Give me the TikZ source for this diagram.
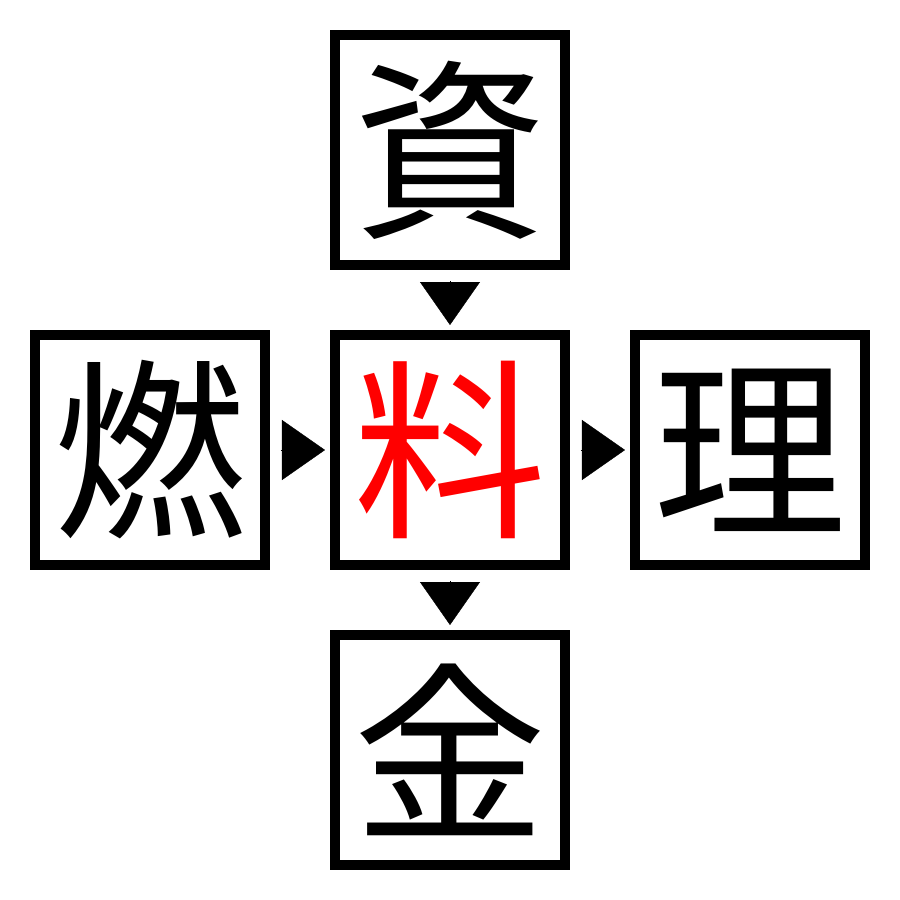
\documentclass[tikz,border=0pt]{standalone}
\usepackage{fontspec}
\newfontfamily\cjk{Noto Sans CJK JP}
\usepackage{tikz}
\usetikzlibrary{arrows.meta}

\begin{document}
\begin{tikzpicture}[every node/.style={draw,shape=rectangle,line width=0.2cm,minimum size=4.6cm,inner sep=0pt,font=\cjk\fontsize{110}{110}\selectfont},
	tri/.style={line width=0.2pt,-{Triangle[length=0.86cm,width=1.2cm]},shorten <=0.22cm,shorten >=0.1cm}]
		\useasboundingbox (-9,-9) rectangle (9,9);
		\path (0,6) node (p0) {資}
		(-6,0) node (p1) {燃}
		(0,0) node[text=red] (p2) {料}
		(6,0) node (p3) {理}
		(0,-6) node (p4) {金};

		\draw[tri] (p0) -- (p2);
		\draw[tri] (p1) -- (p2);
		\draw[tri] (p2) -- (p3);
		\draw[tri] (p2) -- (p4);

	\end{tikzpicture}
\end{document}
